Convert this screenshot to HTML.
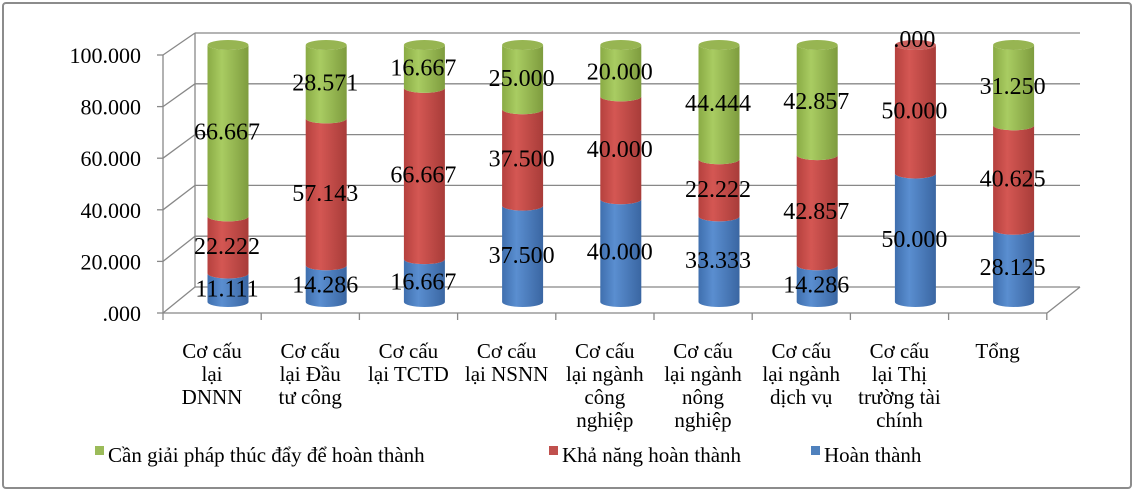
<!DOCTYPE html>
<html><head><meta charset="utf-8"><style>
body{margin:0;background:#fff}
svg text{font-family:"Liberation Serif",serif;fill:#000}
</style></head><body>
<svg width="1135" height="492" xmlns="http://www.w3.org/2000/svg">
<defs>
<linearGradient id="gG" x1="0" x2="1"><stop offset="0" stop-color="#8aab45"/><stop offset="0.35" stop-color="#a9cc62"/><stop offset="1" stop-color="#7e9c3e"/></linearGradient>
<linearGradient id="gR" x1="0" x2="1"><stop offset="0" stop-color="#b5413e"/><stop offset="0.35" stop-color="#d45753"/><stop offset="1" stop-color="#a83c39"/></linearGradient>
<linearGradient id="gB" x1="0" x2="1"><stop offset="0" stop-color="#3f6fae"/><stop offset="0.35" stop-color="#5a8ed0"/><stop offset="1" stop-color="#3a66a2"/></linearGradient>
</defs>
<rect x="3" y="3" width="1128" height="485" fill="#fff" stroke="#8c8c8c" stroke-width="2" rx="3"/>
<g stroke="#888" stroke-width="1.3" fill="none" id="grid"></g>
<g id="bars"></g>
<g id="labs" font-size="24" text-anchor="middle"></g>
<g id="cl" font-size="21" text-anchor="middle"></g>
<g font-size="21">
<rect x="95" y="446" width="9" height="9" fill="#9bbb59"/>
<text x="108" y="462">Cần giải pháp thúc đẩy để hoàn thành</text>
<rect x="549" y="446" width="9" height="9" fill="#c0504d"/>
<text x="562" y="462">Khả năng hoàn thành</text>
<rect x="811" y="446" width="9" height="9" fill="#4f81bd"/>
<text x="824" y="462">Hoàn thành</text>
</g>
</svg>
<script>
const NS="http://www.w3.org/2000/svg";
function el(t,a,p,txt){const e=document.createElementNS(NS,t);for(const k in a)e.setAttribute(k,a[k]);if(txt!==undefined)e.textContent=txt;p.appendChild(e);return e;}
const g=document.getElementById('grid'),b=document.getElementById('bars'),L=document.getElementById('labs'),C=document.getElementById('cl');
for(let i=0;i<=5;i++){const fy=313-i*51.6, by=287-i*50.8;
 el('line',{x1:195,y1:by,x2:1080,y2:by},g);
 el('line',{x1:163,y1:fy,x2:195,y2:by},g);
 el('line',{x1:157,y1:fy,x2:163,y2:fy},g);
 el('text',{x:141,y:fy+8,'text-anchor':'end','font-size':'22'},document.querySelector('svg'),['.000','20.000','40.000','60.000','80.000','100.000'][i]);
}
el('line',{x1:163,y1:313,x2:163,y2:55},g);
el('line',{x1:195,y1:287,x2:195,y2:33},g);
el('line',{x1:163,y1:313,x2:1047,y2:313},g);
el('line',{x1:1047,y1:313,x2:1080,y2:287},g);
for(let i=0;i<=9;i++){const x=163+i*98.2;el('line',{x1:x,y1:313,x2:x,y2:320},g);}
const data=[[11.111,22.222,66.667],[14.286,57.143,28.571],[16.667,66.667,16.667],[37.5,37.5,25],[40,40,20],[33.333,22.222,44.444],[14.286,42.857,42.857],[50,50,0],[28.125,40.625,31.25]];
const fm=v=>v===0?'.000':v.toFixed(3);
const fills=['url(#gB)','url(#gR)','url(#gG)'],tops=['#6f9ad4','#c9605c','#97b552'];
const base=302,sc=2.57,rx=20.5,ry=5;
data.forEach((d,i)=>{const cx=228+98.2*i;let y=base;
 d.forEach((v,j)=>{const h=v*sc;if(h<=0)return;const y2=y-h;
  el('path',{d:`M${cx-rx},${y2} L${cx-rx},${y} A${rx},${ry} 0 0 0 ${cx+rx},${y} L${cx+rx},${y2} A${rx},${ry} 0 0 1 ${cx-rx},${y2}Z`,fill:fills[j]},b);
  y=y2;});
 let topc=d[2]>0?2:1;
 el('ellipse',{cx:cx,cy:y,rx:rx,ry:ry,fill:tops[topc]},b);
 y=base;
 d.forEach((v,j)=>{const h=v*sc;let ly=y-h/2+9;if(v===0)ly=y+2;
  el('text',{x:cx-1,y:ly},L,fm(v));y-=h;});
});
const cats=[["Cơ cấu","lại","DNNN"],["Cơ cấu","lại Đầu","tư công"],["Cơ cấu","lại TCTD"],["Cơ cấu","lại NSNN"],["Cơ cấu","lại ngành","công","nghiệp"],["Cơ cấu","lại ngành","nông","nghiệp"],["Cơ cấu","lại ngành","dịch vụ"],["Cơ cấu","lại Thị","trường tài","chính"],["Tổng"]];
cats.forEach((c,i)=>{const x=212+98.2*i;c.forEach((s,k)=>el('text',{x:x,y:358+k*23},C,s));});
</script>
</body></html>
